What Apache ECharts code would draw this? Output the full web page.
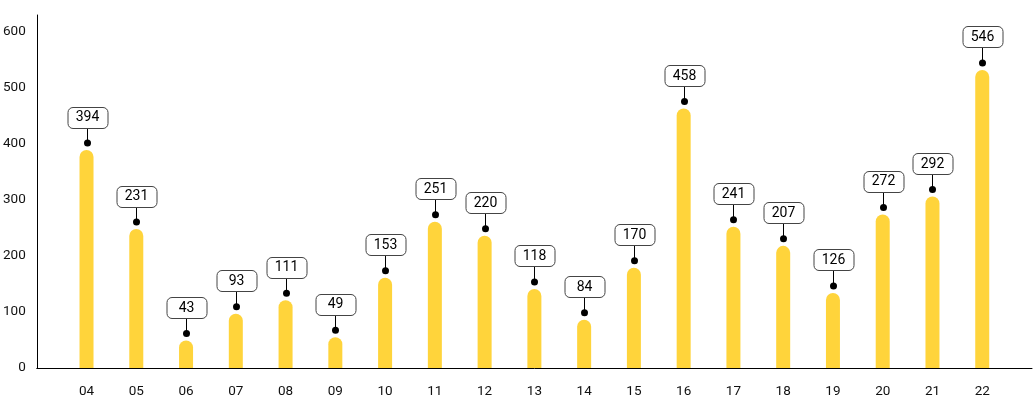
<!DOCTYPE html>
<html>
<head>
<meta charset="utf-8">
<script src="https://cdn.jsdelivr.net/npm/echarts@6/dist/echarts.min.js"></script>
<style>
html,body{margin:0;padding:0;background:#fff;}
#chart{width:1035px;height:400px;}
</style>
</head>
<body>
<div id="chart"></div>
<script>
// Categories (x axis)
var categories = ['04','05','06','07','08','09','10','11','12','13','14','15','16','17','18','19','20','21','22'];
// Bar heights as drawn
var barValues = [389, 248, 49, 97, 121, 55, 161, 261, 236, 141, 86, 179, 463, 252, 218, 134, 274, 306, 532];
// Callout label values
var labelValues = [394, 231, 43, 93, 111, 49, 153, 251, 220, 118, 84, 170, 458, 241, 207, 126, 272, 292, 546];
// Y ticks
var yMin = 0, yMax = 630, yInterval = 100;

var axisCats = [''].concat(categories).concat(['']);
var barData = categories.map(function (c, i) { return [c, barValues[i]]; });

var chart = echarts.init(document.getElementById('chart'));
chart.setOption({
  animation: false,
  backgroundColor: '#fff',
  grid: { left: 34, right: 0, top: 15, bottom: 32, containLabel: false },
  xAxis: {
    type: 'category',
    data: axisCats,
    boundaryGap: false,
    axisLine: { lineStyle: { color: '#000', width: 1 } },
    axisTick: { show: false },
    axisLabel: { color: '#111', fontSize: 13.5, fontFamily: 'Roboto', margin: 17 },
    splitLine: { show: false }
  },
  yAxis: {
    type: 'value',
    min: yMin,
    max: yMax,
    interval: yInterval,
    axisLine: { show: true, lineStyle: { color: '#000', width: 1 } },
    axisTick: { show: false },
    splitLine: { show: false },
    axisLabel: { color: '#111', fontSize: 13.5, fontFamily: 'Roboto', margin: 11, showMaxLabel: false }
  },
  series: [
    {
      type: 'bar',
      data: barData,
      barWidth: 14,
      itemStyle: { color: '#FFD43B', borderRadius: [7, 7, 0, 0] }
    },
    {
      type: 'custom',
      data: barData,
      encode: { x: 0, y: 1 },
      z: 5,
      renderItem: function (params, api) {
        var p = api.coord([api.value(0), api.value(1)]);
        var x = Math.round(p[0]) + 0.5;
        var dotY = p[1] - 7;
        var boxBottom = dotY - 15.5;
        var boxH = 21, boxW = 40;
        return {
          type: 'group',
          children: [
            { type: 'line', shape: { x1: x, y1: dotY, x2: x, y2: boxBottom }, style: { stroke: '#000', lineWidth: 1 } },
            { type: 'circle', shape: { cx: x, cy: dotY, r: 3.5 }, style: { fill: '#000' } },
            { type: 'rect', shape: { x: Math.round(x - boxW / 2), y: Math.round(boxBottom - boxH) + 0.5, width: boxW, height: boxH, r: 5 }, style: { fill: '#fff', stroke: '#444', lineWidth: 1 } },
            { type: 'text', style: { text: String(labelValues[params.dataIndex]), x: x, y: boxBottom - boxH / 2 + 0.5, align: 'center', verticalAlign: 'middle', fontSize: 14, fontFamily: 'Roboto', fill: '#000' } }
          ]
        };
      }
    }
  ]
});
</script>
</body>
</html>
